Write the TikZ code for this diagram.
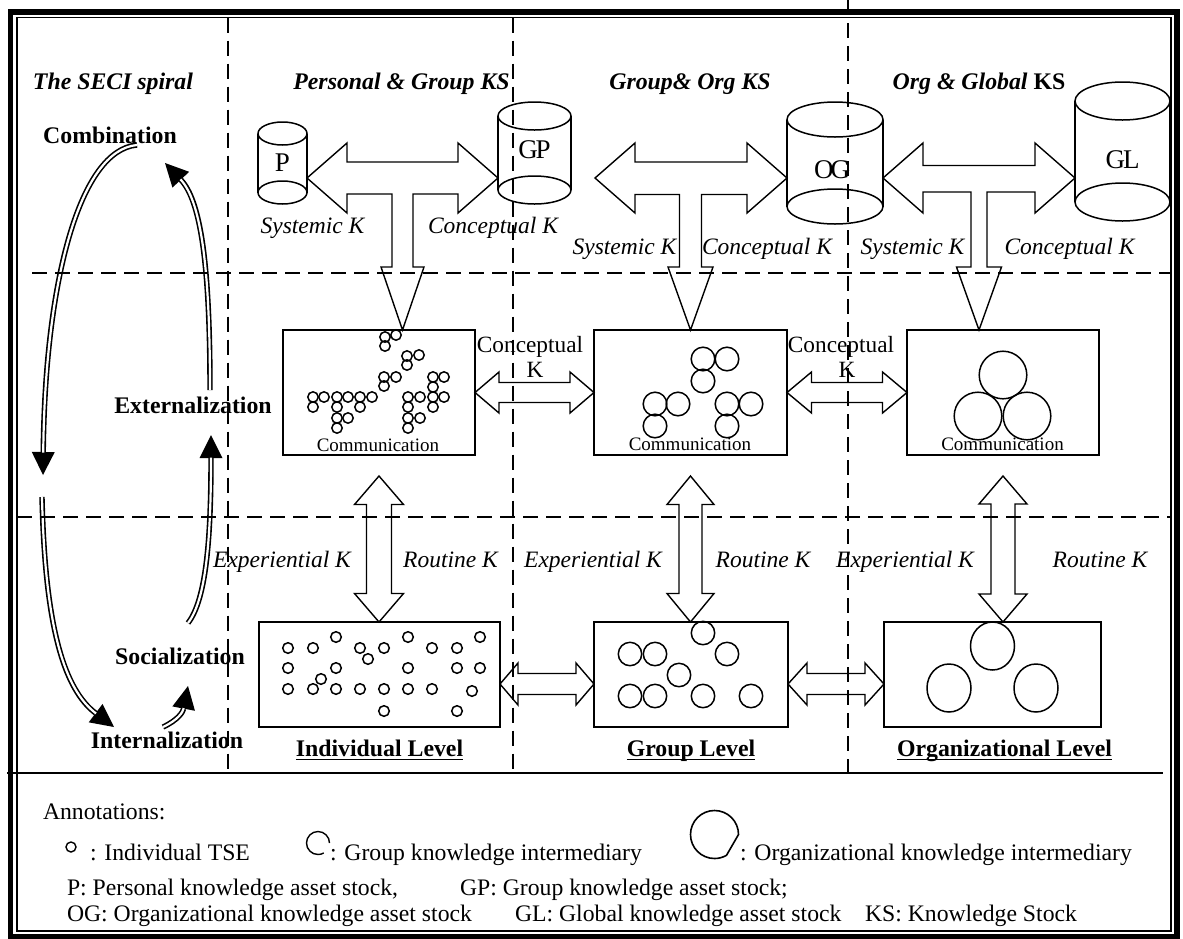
\documentclass[tikz,border=0pt]{standalone}
\usepackage{fontspec}
\setmainfont{Liberation Serif}
\usetikzlibrary{calc,arrows.meta}

% T-shaped block arrow: left tip, right tip, lower tip, shaft half widths, stem half width, stem head half width
\newcommand\blkT[7]{%
  \coordinate (tS) at (#3|-#2);
  \draw[barrow] (#1) -- ($(#1)+(40,-35)$) -- ($(#1)+(40,-#4)$)
    -- ($(#2)+(-40,-#4)$) -- ($(#2)+(-40,-35)$) -- (#2)
    -- ($(#2)+(-40,35)$) -- ($(#2)+(-40,#5)$)
    -- ($(tS)+(#6,#5)$) -- ($(#3)+(#6,-63)$) -- ($(#3)+(#7,-63)$) -- (#3)
    -- ($(#3)+(-#7,-63)$) -- ($(#3)+(-#6,-63)$) -- ($(tS)+(-#6,#5)$)
    -- ($(#1)+(40,#5)$) -- ($(#1)+(40,35)$) -- cycle;}
% horizontal double block arrow: left tip, right tip, shaft half, head half, head length
\newcommand\blkH[5]{%
  \draw[barrow] (#1) -- ($(#1)+(#5,-#4)$) -- ($(#1)+(#5,-#3)$)
    -- ($(#2)+(-#5,-#3)$) -- ($(#2)+(-#5,-#4)$) -- (#2)
    -- ($(#2)+(-#5,#4)$) -- ($(#2)+(-#5,#3)$)
    -- ($(#1)+(#5,#3)$) -- ($(#1)+(#5,#4)$) -- cycle;}
% vertical double block arrow: top tip, bottom tip, shaft half, head half, head length
\newcommand\blkV[5]{%
  \draw[barrow] (#1) -- ($(#1)+(#4,#5)$) -- ($(#1)+(#3,#5)$)
    -- ($(#2)+(#3,-#5)$) -- ($(#2)+(#4,-#5)$) -- (#2)
    -- ($(#2)+(-#4,-#5)$) -- ($(#2)+(-#3,-#5)$)
    -- ($(#1)+(-#3,#5)$) -- ($(#1)+(-#4,#5)$) -- cycle;}
% cylinder outline around a named node: node, x radius, y radius
\newcommand\cylout[3]{%
  \draw[cylline] ($(#1.north)+(0,#3)$) ellipse (#2pt and #3pt);
  \draw[cylline] ($(#1.south)+(0,-#3)$) ellipse (#2pt and #3pt);
  \draw[cylline] ($(#1.north west)+(0,#3)$) -- ($(#1.south west)+(0,-#3)$);
  \draw[cylline] ($(#1.north east)+(0,#3)$) -- ($(#1.south east)+(0,-#3)$);}
% hollow double curve ending in a solid head: start, control 1, control 2, end
\newcommand\spiralarrow[4]{%
  \draw[line width=5.4pt,-{Triangle[length=23pt,width=23pt,line width=0pt]}]
    (#1) .. controls #2 and #3 .. (#4);
  \draw[white,line width=2.2pt,shorten >=22.5pt] (#1) .. controls #2 and #3 .. (#4);}

\begin{document}
\begin{tikzpicture}[x=1pt,y=-1pt,
  every node/.style={inner sep=0pt,outer sep=0pt},
  head/.style={font=\fontsize{23.8}{26}\selectfont\bfseries\itshape},
  phase/.style={font=\fontsize{23.8}{26}\selectfont\bfseries},
  lvl/.style={font=\fontsize{23.8}{26}\selectfont\bfseries},
  klab/.style={font=\fontsize{23.5}{26}\selectfont\itshape},
  ctext/.style={font=\fontsize{23.3}{26}\selectfont},
  comm/.style={font=\fontsize{19}{21}\selectfont},
  note/.style={font=\fontsize{23.7}{26}\selectfont},
  cyllab/.style={font=\fontsize{27}{30}\selectfont},
  cylline/.style={line width=1.5pt},
  box/.style={draw,line width=1.6pt},
  barrow/.style={draw,line width=1.4pt,line join=miter},
  grid/.style={line width=1.4pt,dash pattern=on 15pt off 8pt},
  dot/.style={line width=1.5pt},
]
\useasboundingbox (0,0) rectangle (1183,938);

% ---------- frame ----------
\draw[line width=5.5pt] (10.5,12) rectangle (1177,936.5);
\draw[line width=1.4pt] (17,17.5) rectangle (1171,931);
\draw[line width=1.6pt] (7,773) -- (1163,773);

% ---------- column headers ----------
\node[head,anchor=base] (h0) at (113,89) {The SECI spiral};
\node[head,anchor=base] (h1) at (401.5,89) {Personal \& Group KS};
\node[head,anchor=base] (h2) at (690,89) {Group\& Org KS};
\node[head,anchor=base] (h3) at (979,89) {Org \& Global {\upshape KS}};

% ---------- knowledge stocks ----------
\node[minimum width=49pt,minimum height=82pt] (P) at (282.5,163) {};
\node[minimum width=73pt,minimum height=102pt] (GP) at (534.5,153) {};
\node[minimum width=96pt,minimum height=122pt] (OG) at (835,163) {};
\node[minimum width=95pt,minimum height=139pt] (GL) at (1122.5,151.5) {};
\cylout{P}{24.5}{11.5}
\cylout{GP}{36.5}{14}
\cylout{OG}{48}{17.5}
\cylout{GL}{47.5}{19}
\node[cyllab] (Pt) at ($(P)+(0,0)$) {P};
\node[cyllab] (GPt) at ($(GP)+(0,-3)$) {G\kern-2.5pt P};
\node[cyllab] (OGt) at ($(OG)+(-3,7)$) {O\kern-3pt G};
\node[cyllab] (GLt) at ($(GL)+(0,8.5)$) {G\kern-2pt L};

% ---------- communication boxes ----------
\node[box,minimum width=192pt,minimum height=125pt] (m1) at (379,392.5) {};
\node[box,minimum width=193pt,minimum height=125pt] (m2) at (690.5,392.5) {};
\node[box,minimum width=192pt,minimum height=125pt] (m3) at (1003,392.5) {};
\node[comm,anchor=base] (cm1) at (378,451) {Communication};
\node[comm,anchor=base] (cm2) at (690,450) {Communication};
\node[comm,anchor=base] (cm3) at (1002.5,450) {Communication};

% ---------- level boxes ----------
\node[box,minimum width=241pt,minimum height=105pt] (b1) at (379.5,674.5) {};
\node[box,minimum width=194pt,minimum height=105pt] (b2) at (691,674.5) {};
\node[box,minimum width=217pt,minimum height=105pt] (b3) at (992.5,674.5) {};
\node[lvl,anchor=base] (lv1) at (379.5,756) {Individual Level};
\node[lvl,anchor=base] (lv2) at (691,756) {Group Level};
\node[lvl,anchor=base] (lv3) at (1004.5,756) {Organizational Level};
\foreach \n in {lv1,lv2,lv3}
  \draw[line width=1.8pt] ($(\n.base west)+(0,3.5)$) -- ($(\n.base east)+(0,3.5)$);

% ---------- individual TSEs and intermediaries ----------
\foreach \p in {(385,337),(396,335),(385,346),(407,356),(419,355),(407,365),
  (384,377),(396,377),(384,386),
  (313,397),(324,397),(337,397),(348,397),(360,397),(372,397),
  (313,407),(337,407),(360,407),(337,418),(348,418),(337,428),
  (433,377),(444,377),(433,387),(408,397),(420,397),(433,397),(444,397),
  (408,407),(433,407),(408,418),(420,418),(408,428)}
  \draw[dot] \p circle (5.2pt);
\foreach \p in {(703,359),(727,359),(703,381),(655,404),(678,404),(655,426),
  (727,404),(751,404),(727,426)}
  \draw[dot] \p circle (11.8pt);
\foreach \p in {(1003,375),(978,416),(1027,416)}
  \draw[dot] \p circle (23.8pt);
\foreach \p in {(288,648),(313,648),(360,648),(384,648),(432,648),(457,648),
  (336,637),(408,637),(480,637),(368,659),
  (288,668),(336,668),(408,668),(457,668),(480,668),(321,679),
  (288,689),(313,689),(336,689),(360,689),(384,689),(408,689),(432,689),
  (472,691),(384,711),(457,711)}
  \draw[dot] \p circle (5.3pt);
\foreach \p in {(703,633),(630,654),(655,654),(727,654),(679,675),
  (630,696),(655,696),(703,696),(751,696)}
  \draw[dot] \p circle (11.7pt);
\foreach \p in {(992.5,646),(949,688),(1036,688)}
  \draw[dot] \p ellipse (22pt and 24pt);

% ---------- block arrows between stocks and boxes ----------
\coordinate (r1) at (0,178);
\coordinate (a1l) at (P.east|-r1);
\coordinate (a1r) at (GP.west|-r1);
\coordinate (a1t) at ($(m1.north)+(23.5,0)$);
\coordinate (a2l) at (595,178);
\coordinate (a2r) at (OG.west|-r1);
\coordinate (a2t) at (m2.north);
\coordinate (a3l) at (OG.east|-r1);
\coordinate (a3r) at (GL.west|-r1);
\coordinate (a3t) at ($(m3.north)+(-24,0)$);
\blkT{a1l}{a1r}{a1t}{16}{16}{10.5}{21.5}
\blkT{a2l}{a2r}{a2t}{16}{16.5}{11}{22.5}
\blkT{a3l}{a3r}{a3t}{12.5}{14}{8}{22.5}

\blkH{m1.east}{m2.west}{10}{20.5}{24}
\blkH{m2.east}{m3.west}{10}{20.5}{24.5}

\coordinate (v1t) at ($(m1.south)+(0,21)$);
\coordinate (v1b) at (m1.south|-b1.north);
\coordinate (v2t) at ($(m2.south)+(0,21)$);
\coordinate (v2b) at (m2.south|-b2.north);
\coordinate (v3t) at ($(m3.south)+(0,21)$);
\coordinate (v3b) at (m3.south|-b3.north);
\blkV{v1t}{v1b}{12.5}{24.5}{28.5}
\blkV{v2t}{v2b}{11.5}{23.5}{28.5}
\blkV{v3t}{v3b}{12}{24}{28}

\coordinate (h1l) at ($(b1.east)+(0,9.5)$);
\coordinate (h1r) at ($(b2.west)+(0,9.5)$);
\coordinate (h2l) at ($(b2.east)+(0,9.5)$);
\coordinate (h2r) at ($(b3.west)+(0,9.5)$);
\blkH{h1l}{h1r}{10.5}{21}{18}
\blkH{h2l}{h2r}{10.5}{21}{19}

% ---------- arrow labels ----------
\node[klab,anchor=base] (k1) at (312.5,233) {Systemic K};
\node[klab,anchor=base] (k2) at (493,233) {Conceptual K};
\node[klab,anchor=base] (k3) at (624.5,254) {Systemic K};
\node[klab,anchor=base] (k4) at (767,254) {Conceptual K};
\node[klab,anchor=base] (k5) at (912.5,254) {Systemic K};
\node[klab,anchor=base] (k6) at (1069.5,254) {Conceptual K};
\node[ctext,anchor=base] (c1a) at (530,352) {Conceptual};
\node[ctext,anchor=base] (c1b) at (535,377) {K};
\node[ctext,anchor=base] (c2a) at (841,352) {Conceptual};
\node[ctext,anchor=base] (c2b) at (847,377) {K};
\node[klab,anchor=base] (e1) at (282,567) {Experiential K};
\node[klab,anchor=base] (o1) at (450.5,567) {Routine K};
\node[klab,anchor=base] (e2) at (593,567) {Experiential K};
\node[klab,anchor=base] (o2) at (763,567) {Routine K};
\node[klab,anchor=base] (e3) at (905,567) {Experiential K};
\node[klab,anchor=base] (o3) at (1100,567) {Routine K};

% ---------- SECI spiral ----------
\node[phase,anchor=base] (comb) at (110,143) {Combination};
\node[phase,anchor=base] (ext) at (193,413) {Externalization};
\node[phase,anchor=base] (soc) at (180,664) {Socialization};
\node[phase,anchor=base] (intl) at (167,748) {Internalization};
\coordinate (sA1) at (137,145);
\coordinate (sA2) at (43,475);
\coordinate (sB1) at (42,497);
\coordinate (sB2) at (114,727);
\coordinate (sC1) at (163,727);
\coordinate (sC2) at (188,686);
\coordinate (sD1) at (188,623);
\coordinate (sD2) at (211,435);
\coordinate (sE1) at (210,390);
\coordinate (sE2) at (165,163);
\spiralarrow{sA1}{(80,150)}{(45,280)}{sA2}
\spiralarrow{sB1}{(45,630)}{(65,690)}{sB2}
\spiralarrow{sC1}{(178,720)}{(183,712)}{sC2}
\spiralarrow{sD1}{(206,600)}{(211,540)}{sD2}
\spiralarrow{sE1}{(210,260)}{(200,200)}{sE2}

% ---------- dashed grid ----------
\draw[grid] (228,17.5) -- (228,773);
\draw[grid] (513,17.5) -- (513,773);
\draw[grid] (848,0) -- (848,773);
\draw[grid] (32,273) -- (1171,273);
\draw[grid] (17,517) -- (1171,517);

% ---------- annotations ----------
\node[note,anchor=base west] (ann) at (43,819) {Annotations:};
\draw[line width=1.4pt] (71,847) circle (5pt);
\node[note,anchor=base west] (n1) at (90,860) {: Individual TSE};
\draw[line width=1.4pt] (318,843) ++(0:11.5pt) arc[start angle=0,end angle=300,radius=11.5pt];
\node[note,anchor=base west] (n2) at (330,860) {: Group knowledge intermediary};
\draw[line width=1.6pt] (714.5,834.5) ++(0:24pt) arc[start angle=0,end angle=300,radius=24pt] -- cycle;
\node[note,anchor=base west] (n3) at (740,860) {: Organizational knowledge intermediary};
\node[note,anchor=base west] (n4) at (67,895) {P: Personal knowledge asset stock,};
\node[note,anchor=base west] (n5) at (460,895) {GP: Group knowledge asset stock;};
\node[note,anchor=base west] (n6) at (67,921) {OG: Organizational knowledge asset stock};
\node[note,anchor=base west] (n7) at (515,921) {GL: Global knowledge asset stock};
\node[note,anchor=base west] (n8) at (865,921) {KS: Knowledge Stock};
\end{tikzpicture}
\end{document}
